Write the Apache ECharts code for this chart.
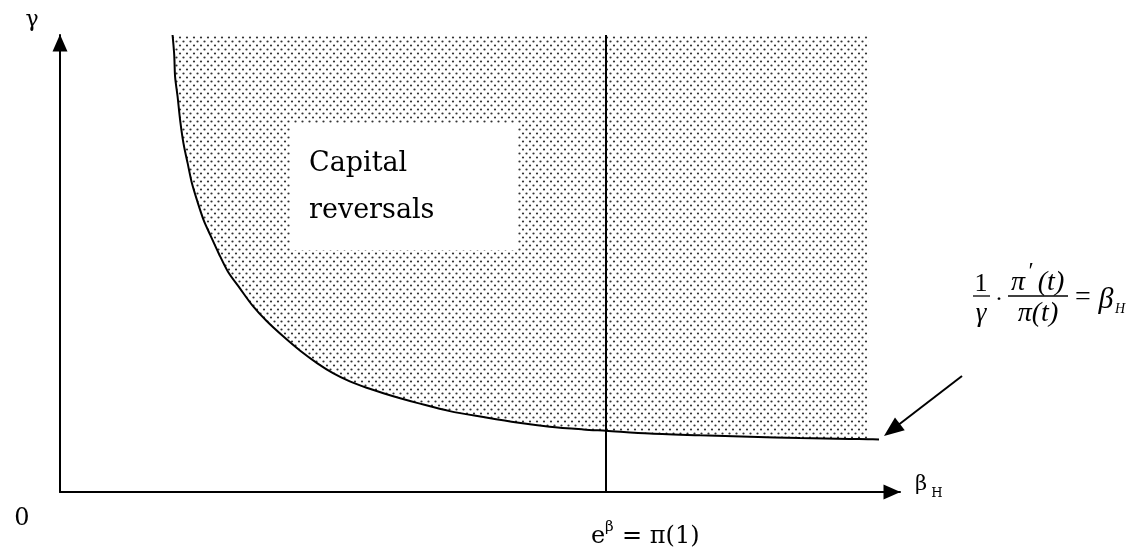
<!DOCTYPE html>
<html>
<head>
<meta charset="utf-8">
<title>Capital reversals</title>
<script src="https://cdn.jsdelivr.net/npm/echarts@6/dist/echarts.min.js"></script>
<style>
  html, body { margin: 0; padding: 0; background: #fff; }
  #chart { width: 1143px; height: 554px; }
</style>
</head>
<body>
<div id="chart"></div>
<script>
// curve 1/γ · π'(t)/π(t) = β_H (axes run 0..100)
const curveX = [13.4, 13.6, 13.7, 14.0, 14.3, 14.7, 15.2, 15.7, 16.3, 17.1, 17.9, 18.9, 20.0, 21.4, 23.0, 24.6, 26.6, 28.6, 30.6, 32.5, 34.5, 36.5, 38.5, 40.5, 42.5, 46.4, 50.4, 54.4, 58.3, 62.3, 65.0, 70.2, 76.2, 82.1, 88.1, 94.0, 96.2, 97.5]
const curveY = [100, 95.6, 90.9, 86.5, 81.4, 76.3, 71.9, 67.6, 63.9, 59.5, 56.2, 52.2, 48.2, 44.6, 40.6, 37.4, 34.0, 30.9, 28.2, 26.0, 24.2, 22.8, 21.6, 20.5, 19.5, 17.7, 16.4, 15.2, 14.3, 13.7, 13.4, 12.8, 12.4, 12.1, 11.8, 11.6, 11.55, 11.5]
// the shaded region stops here on the right
const shadeEndX = 96.2
// e^β = π(1)
const markX = 65
const axisMin = 0
const axisMax = 100

const curveData = curveX.map((x, i) => [x, curveY[i]])
const shadeData = curveData.filter(p => p[0] <= shadeEndX)

// dotted fill
function dotPattern() {
  const c = document.createElement('canvas')
  c.width = 7
  c.height = 8
  const ctx = c.getContext('2d')
  ctx.fillStyle = '#333'
  ;[[1.5, 1.5], [5, 5.5]].forEach(p => {
    ctx.beginPath()
    ctx.arc(p[0], p[1], 1.1, 0, Math.PI * 2)
    ctx.fill()
  })
  return c
}

// pointer arrow towards the curve end
function pointer(x1, y1, x2, y2) {
  const dx = x2 - x1, dy = y2 - y1
  const len = Math.sqrt(dx * dx + dy * dy)
  const ux = dx / len, uy = dy / len
  const hl = 20, hw = 8
  const bx = x2 - ux * hl, by = y2 - uy * hl
  return [
    { type: 'line', z: 100, shape: { x1: x1, y1: y1, x2: bx + ux * 2, y2: by + uy * 2 }, style: { stroke: '#000', lineWidth: 2 } },
    { type: 'polygon', z: 100, shape: { points: [[x2, y2], [bx - uy * hw, by + ux * hw], [bx + uy * hw, by - ux * hw]] }, style: { fill: '#000' } }
  ]
}

const serif = 'DejaVu Serif'
const times = 'Liberation Serif'

function txt(x, y, text, size, family, italic, align) {
  return {
    type: 'text', z: 100, x: x, y: y,
    style: {
      text: text,
      fontSize: size,
      fontFamily: family,
      fontStyle: italic ? 'italic' : 'normal',
      fill: '#000',
      textAlign: align || 'center',
      textVerticalAlign: 'middle'
    }
  }
}

const myChart = echarts.init(document.getElementById('chart'))
window.addEventListener('resize', myChart.resize)

const axisCommon = {
  type: 'value',
  min: axisMin,
  max: axisMax,
  splitLine: { show: false },
  axisTick: { show: false },
  axisLabel: { show: false },
  axisLine: {
    show: true,
    symbol: ['none', 'triangle'],
    symbolSize: [15, 17],
    symbolOffset: [0, -8],
    lineStyle: { color: '#000', width: 2 }
  }
}

const option = {
  animation: false,
  backgroundColor: '#fff',
  grid: { left: 60, top: 35, width: 840, height: 457 },
  xAxis: axisCommon,
  yAxis: axisCommon,
  series: [
    {
      name: 'shade',
      type: 'line',
      data: shadeData,
      smooth: 0.3,
      symbol: 'none',
      lineStyle: { width: 0 },
      areaStyle: { origin: 'end', opacity: 1, color: { image: dotPattern(), repeat: 'repeat' } },
      z: 1
    },
    {
      name: 'curve',
      type: 'line',
      data: curveData,
      smooth: 0.3,
      symbol: 'none',
      lineStyle: { color: '#000', width: 2 },
      z: 3
    },
    {
      name: 'mark',
      type: 'line',
      data: [[markX, axisMin], [markX, axisMax]],
      symbol: 'none',
      lineStyle: { color: '#000', width: 2 },
      z: 3
    }
  ],
  graphic: [
    { type: 'rect', z: 90, shape: { x: 290, y: 123, width: 227, height: 127 }, style: { fill: '#fff' } },
    txt(309, 164, 'Capital', 27, serif, false, 'left'),
    txt(309, 211, 'reversals', 27, serif, false, 'left'),
    txt(32, 20, 'γ', 22, serif),
    txt(22, 519, '0', 24, serif),
    txt(921, 485, 'β', 21, serif),
    txt(937, 494, 'H', 13, serif),
    txt(591, 537, 'e', 24, serif, false, 'left'),
    txt(605, 527, 'β', 15, serif, false, 'left'),
    txt(622, 537, '= π(1)', 24, serif, false, 'left'),
    // formula
    txt(981, 284, '1', 26, times),
    { type: 'line', z: 100, shape: { x1: 973, y1: 296, x2: 990, y2: 296 }, style: { stroke: '#000', lineWidth: 1.3 } },
    txt(981, 314, 'γ', 27, times, true),
    txt(999, 300, '·', 24, times),
    txt(1018, 283, 'π', 28, times, true),
    txt(1031, 272, '′', 24, times),
    txt(1051, 283, '(t)', 28, times, true),
    { type: 'line', z: 100, shape: { x1: 1008, y1: 296, x2: 1068, y2: 296 }, style: { stroke: '#000', lineWidth: 1.3 } },
    txt(1038, 314, 'π(t)', 28, times, true),
    txt(1083, 298, '=', 28, times),
    txt(1106, 300, 'β', 30, times, true),
    txt(1120, 309, 'H', 14, times, true)
  ].concat(pointer(962, 376, 884, 436))
}

option && myChart.setOption(option)
</script>
</body>
</html>
